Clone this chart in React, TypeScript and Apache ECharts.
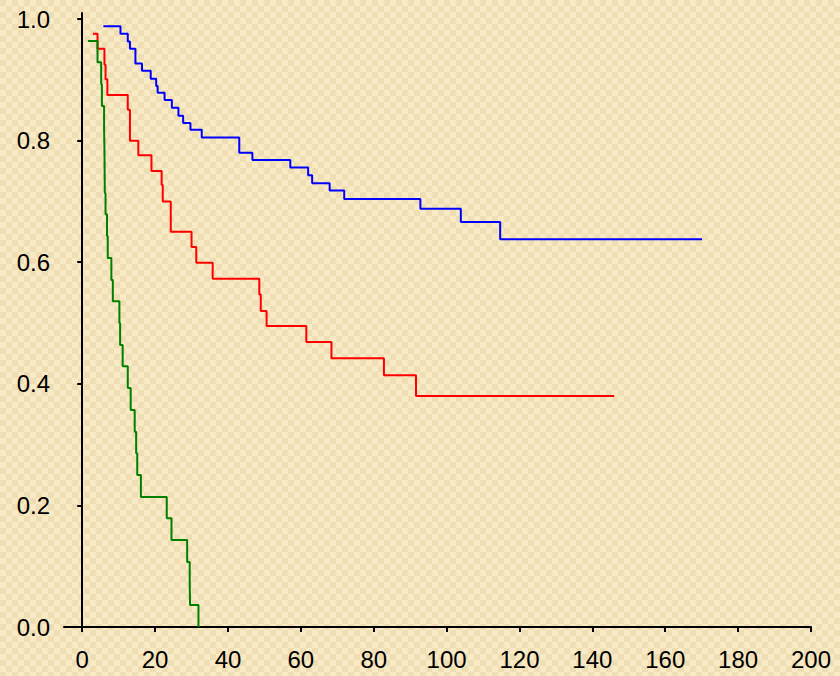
import React, { useEffect, useRef } from "react";
import * as echarts from "echarts";

// x tick labels and y tick labels
const xTicks = [0, 20, 40, 60, 80, 100, 120, 140, 160, 180, 200];
const yTicks = [0, 0.2, 0.4, 0.6, 0.8, 1.0];

// Blue group: event times and survival after each step
const blueTime = [5.8, 10.5, 12.5, 13.1, 14.6, 16.4, 18.8, 20.3, 20.7, 22.6, 24.6, 26.4, 27.7, 29.7, 32.8, 43.1, 46.7, 57.1, 62.0, 63.1, 67.9, 71.9, 92.8, 103.9, 114.7, 170.1];
const blueSurv = [0.988, 0.976, 0.963, 0.951, 0.927, 0.915, 0.902, 0.89, 0.879, 0.867, 0.854, 0.841, 0.829, 0.818, 0.805, 0.78, 0.768, 0.756, 0.743, 0.73, 0.718, 0.704, 0.688, 0.666, 0.638, 0.638];

// Red group
const redTime = [2.95, 4.2, 6.1, 6.4, 6.9, 12.5, 13.1, 15.4, 19.0, 21.8, 22.1, 24.3, 30.0, 31.3, 35.8, 48.6, 49.0, 50.6, 61.5, 68.4, 82.8, 91.6, 146.0];
const redSurv = [0.976, 0.951, 0.925, 0.901, 0.875, 0.851, 0.8, 0.776, 0.75, 0.727, 0.7, 0.65, 0.625, 0.599, 0.573, 0.547, 0.52, 0.495, 0.469, 0.442, 0.414, 0.38, 0.38];

// Green group
const greenTime = [1.6, 4.2, 5.2, 5.4, 6.0, 6.1, 6.15, 6.2, 6.4, 6.8, 7.0, 8.0, 8.4, 10.2, 10.4, 11.1, 12.5, 13.3, 14.4, 14.8, 15.1, 16.1, 23.2, 24.5, 28.8, 29.5, 29.6, 31.9];
const greenSurv = [0.964, 0.929, 0.893, 0.857, 0.821, 0.786, 0.75, 0.714, 0.679, 0.643, 0.607, 0.571, 0.536, 0.5, 0.464, 0.429, 0.393, 0.357, 0.321, 0.286, 0.25, 0.214, 0.179, 0.143, 0.107, 0.071, 0.036, 0.0];

const zip = (t: number[], s: number[]) => t.map((v, i) => [v, s[i]]);

const FONT = "'Liberation Sans', Arial, Helvetica, sans-serif";

export default function App() {
  const ref = useRef<HTMLDivElement>(null);

  useEffect(() => {
    if (!ref.current) return;
    const chart = echarts.init(ref.current, null, { renderer: "svg" });
    const mkSeries = (name: string, t: number[], s: number[], color: string) => ({
      name,
      type: "line",
      step: "end",
      symbol: "none",
      data: zip(t, s),
      lineStyle: { color, width: 2 },
      itemStyle: { color },
      z: 3,
    });
    chart.setOption({
      animation: false,
      backgroundColor: "transparent",
      grid: { left: 64, right: 29, top: 13, bottom: 49, containLabel: false },
      xAxis: {
        type: "value",
        min: -5,
        max: 200,
        axisLine: { show: true, lineStyle: { color: "#000", width: 2 } },
        axisTick: { show: true, length: 5, lineStyle: { color: "#000", width: 2 }, customValues: xTicks },
        axisLabel: { color: "#000", fontSize: 24, fontFamily: FONT, margin: 20, customValues: xTicks, formatter: (v: number) => String(v) },
        splitLine: { show: false },
      },
      yAxis: {
        type: "value",
        min: 0,
        max: 1.01,
        axisLine: { show: true, lineStyle: { color: "#000", width: 2 } },
        axisTick: { show: true, length: 5, lineStyle: { color: "#000", width: 2 }, customValues: yTicks },
        axisLabel: { color: "#000", fontSize: 24, fontFamily: FONT, margin: 14, customValues: yTicks, formatter: (v: number) => v.toFixed(1) },
        splitLine: { show: false },
      },
      series: [
        mkSeries("Blue", blueTime, blueSurv, "#0000FF"),
        mkSeries("Red", redTime, redSurv, "#FF0000"),
        mkSeries("Green", greenTime, greenSurv, "#008000"),
      ],
    });
    return () => chart.dispose();
  }, []);

  return (
    <div
      style={{
        position: "fixed",
        left: 0,
        top: 0,
        width: 840,
        height: 676,
        backgroundColor: "#F5E4BD",
        backgroundImage:
          "repeating-conic-gradient(#F9EAC6 0% 25%, #EFDDB3 0% 50%)",
        backgroundSize: "12px 12px",
      }}
    >
      <div ref={ref} style={{ width: 840, height: 676 }} />
    </div>
  );
}
